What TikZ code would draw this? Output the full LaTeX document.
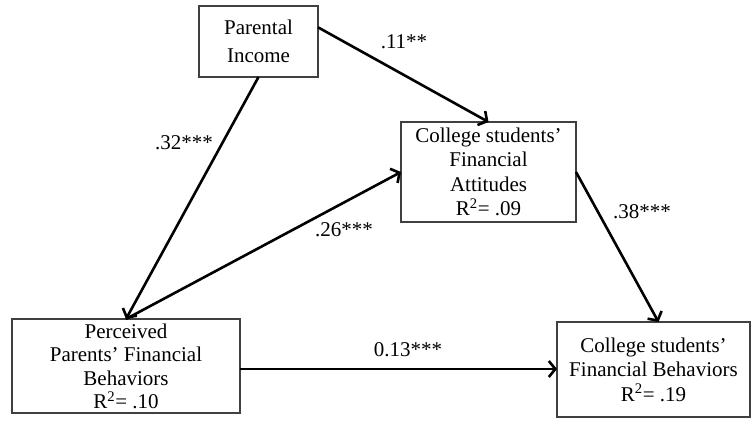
\documentclass[tikz,border=0pt]{standalone}
\usepackage{fontspec}
\setmainfont{Liberation Serif}
\usetikzlibrary{arrows.meta,calc}

\tikzset{
  varbox/.style={draw=black!75, line width=1.2pt, inner sep=0pt, outer sep=0pt,
    align=center, font=\fontsize{21}{24.5}\selectfont},
  boxtext/.style={inner sep=0pt, align=center, font=\fontsize{21}{23.5}\selectfont},
  path/.style={line width=2.6pt, -{Straight Barb[length=6.5pt,width=16pt]}},
  coef/.style={inner sep=0pt, font=\fontsize{21}{24}\selectfont}
}

\begin{document}
\begin{tikzpicture}[x=1pt,y=-1pt]
  \useasboundingbox (0,0) rectangle (752,423);

  % variables
  \node[varbox, minimum width=119pt, minimum height=71pt] (inc) at (258.5,41.5)
    {Parental\\[3pt]Income};
  \node[varbox, minimum width=175pt, minimum height=100pt] (att) at (488.5,172)
    {College students’\\Financial\\Attitudes\\R\textsuperscript{2}= .09};
  \node[varbox, minimum width=228pt, minimum height=94pt] (per) at (126,366) {};
  \node[boxtext] (pertext) at (126,366.5)
    {Perceived\\Parents’ Financial\\Behaviors\\R\textsuperscript{2}= .10};
  \node[varbox, minimum width=193pt, minimum height=95pt] (beh) at (653.5,369.5)
    {College students’\\Financial Behaviors\\R\textsuperscript{2}= .19};

  % paths
  \coordinate (incout) at ($(inc.north east)!0.3!(inc.south east)$);
  \coordinate (behin) at ($(beh.north)+(5,0)$);
  \coordinate (perout) at ($(per.east)+(0,3)$);
  \draw[path] (incout) -- (att.north);
  \draw[path] (inc.south) -- (per.north);
  \draw[path] (per.north) -- (att.west);
  \draw[path] (att.east) -- (behin);
  \draw[path] (perout) -- (perout -| beh.west);

  % coefficients
  \node[coef] (c11) at (404,42) {.11**};
  \node[coef] (c32) at (184,143) {.32***};
  \node[coef] (c26) at (344,230) {.26***};
  \node[coef] (c38) at (642,212) {.38***};
  \node[coef] (c13) at (408,350) {0.13***};
\end{tikzpicture}
\end{document}
